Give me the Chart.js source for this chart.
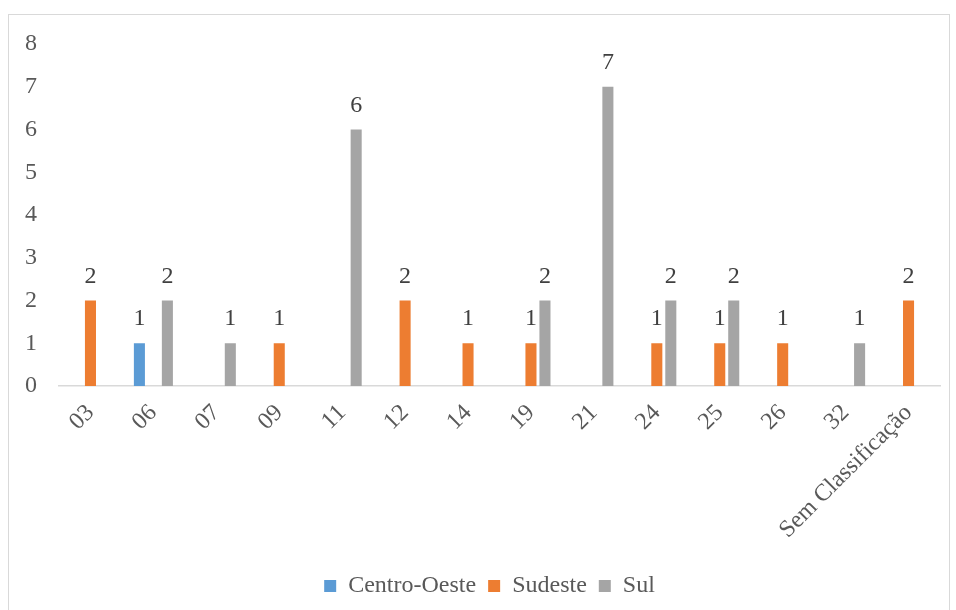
<!DOCTYPE html>
<html>
<head>
<meta charset="utf-8">
<script src="https://cdn.jsdelivr.net/npm/chart.js@4/dist/chart.umd.min.js"></script>
<style>
  html, body { margin: 0; padding: 0; background: #fff; }
  #wrap { position: relative; width: 956px; height: 610px; overflow: hidden; }
  #frame { position: absolute; left: 8px; top: 14px; width: 942px; height: 620px;
           border: 1.5px solid #d9d9d9; box-sizing: border-box; pointer-events: none; }
  canvas { position: absolute; left: 0; top: 0; }
</style>
</head>
<body>
<div id="wrap">
  <canvas id="chart" width="956" height="610"></canvas>
  <div id="frame"></div>
</div>
<script>
// Categories along the x axis
const categories = ['03', '06', '07', '09', '11', '12', '14', '19', '21', '24', '25', '26', '32', 'Sem Classificação'];

// Counts per region (null = no bar)
const centroOeste = [null, 1, null, null, null, null, null, null, null, null, null, null, null, null];
const sudeste     = [2, null, null, 1, null, 2, 1, 1, null, 1, 1, 1, null, 2];
const sul         = [null, 2, 1, null, 6, null, null, 2, 7, 2, 2, null, 1, null];

// Y axis tick labels
const yTicks = [0, 1, 2, 3, 4, 5, 6, 7, 8];

const FONT = "'Liberation Serif', 'Times New Roman', serif";

// Writes each bar's value just above it
const valueLabels = {
  id: 'valueLabels',
  afterDatasetsDraw(chart) {
    const ctx = chart.ctx;
    ctx.save();
    ctx.font = '24px ' + FONT;
    ctx.fillStyle = '#404040';
    ctx.textAlign = 'center';
    ctx.textBaseline = 'alphabetic';
    chart.data.datasets.forEach((ds, i) => {
      const meta = chart.getDatasetMeta(i);
      meta.data.forEach((bar, j) => {
        const v = ds.data[j];
        if (v === null || v === undefined) return;
        ctx.fillText(String(v), bar.x, bar.y - 18);
      });
    });
    ctx.restore();
  }
};

// Nudges the legend row slightly to the right of the canvas centre
const legendShift = {
  id: 'legendShift',
  afterLayout(chart) {
    const lg = chart.legend;
    if (lg) { lg.left += 12; lg.right += 12; }
  }
};

new Chart(document.getElementById('chart'), {
  type: 'bar',
  data: {
    labels: categories,
    datasets: [
      { label: 'Centro-Oeste', data: centroOeste, backgroundColor: '#5B9BD5' },
      { label: 'Sudeste', data: sudeste, backgroundColor: '#ED7D31' },
      { label: 'Sul', data: sul, backgroundColor: '#A5A5A5' }
    ]
  },
  options: {
    responsive: false,
    animation: false,
    devicePixelRatio: 1,
    layout: { padding: { left: 15, right: 16, top: 44, bottom: 2 } },
    datasets: {
      bar: { categoryPercentage: 0.667, barPercentage: 0.79 }
    },
    scales: {
      x: {
        grid: { display: false, drawTicks: false },
        border: { display: true, color: '#d9d9d9', width: 1.5 },
        afterFit(scale) { scale.height = 176; },
        ticks: {
          color: '#595959',
          font: { family: FONT, size: 24 },
          minRotation: 45,
          maxRotation: 45,
          autoSkip: false,
          padding: 13
        }
      },
      y: {
        min: 0,
        max: 8,
        afterBuildTicks(scale) { scale.ticks = yTicks.map(v => ({ value: v })); },
        afterFit(scale) { scale.width = 44; },
        grid: { display: false, drawTicks: false },
        border: { display: false },
        ticks: {
          color: '#595959',
          font: { family: FONT, size: 24 },
          padding: 22
        }
      }
    },
    plugins: {
      legend: {
        position: 'bottom',
        labels: {
          color: '#595959',
          font: { family: FONT, size: 24 },
          boxWidth: 12,
          boxHeight: 12,
          padding: 12
        }
      },
      tooltip: { enabled: false }
    }
  },
  plugins: [valueLabels, legendShift]
});
</script>
</body>
</html>
